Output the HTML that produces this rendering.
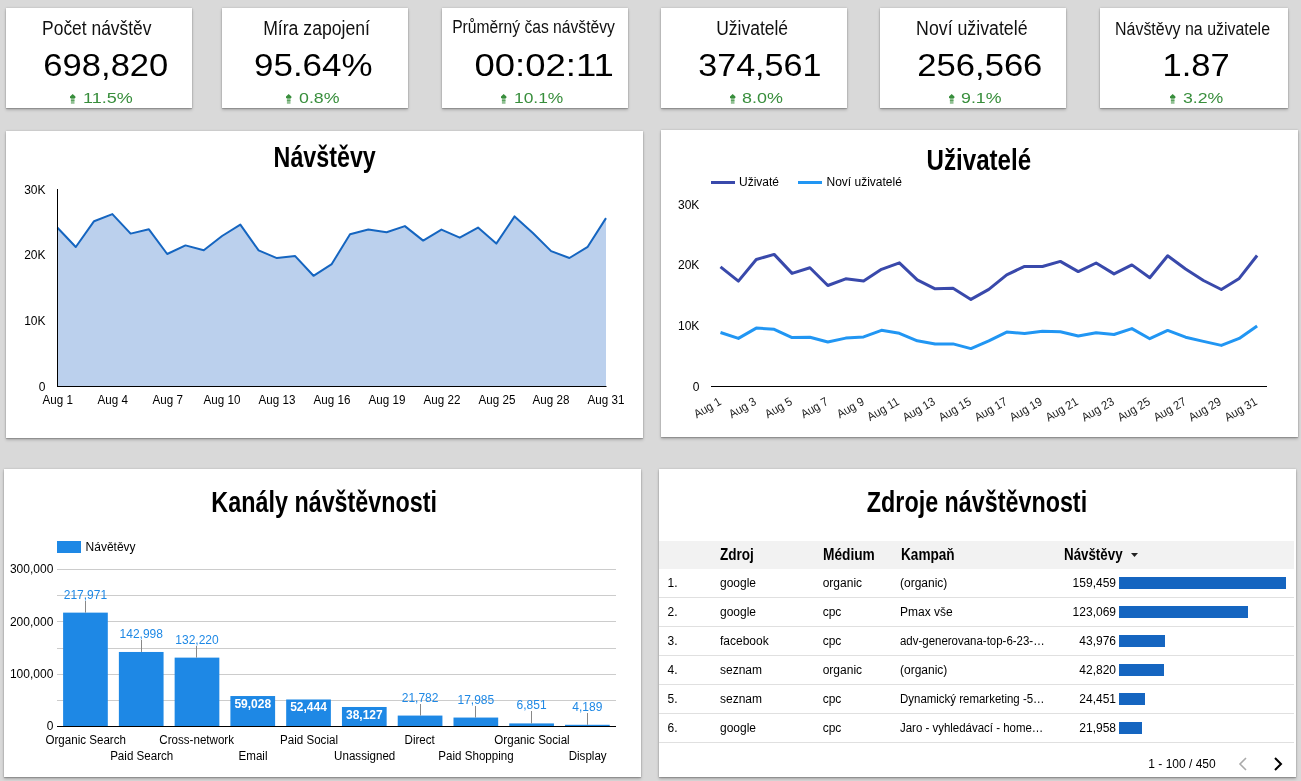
<!DOCTYPE html>
<html><head><meta charset="utf-8"><style>
*{margin:0;padding:0;box-sizing:border-box}
html,body{width:1301px;height:781px;overflow:hidden;background:#d9d9d9;font-family:"Liberation Sans", sans-serif}
.t{position:absolute;white-space:nowrap;font-family:"Liberation Sans", sans-serif}
.card{position:absolute;background:#fff;box-shadow:0 1px 1px rgba(0,0,0,.16),0 0 2px rgba(0,0,0,.18),0 2px 3px rgba(0,0,0,.2)}
.a{position:absolute}
#root{position:absolute;left:0;top:0;width:1301px;height:781px;will-change:transform}
svg{position:absolute;overflow:visible}
</style></head><body>
<div id="root">
<div class="card" style="left:6px;top:8px;width:186px;height:100px"></div>
<div class="card" style="left:222px;top:8px;width:186px;height:100px"></div>
<div class="card" style="left:442px;top:8px;width:186px;height:100px"></div>
<div class="card" style="left:661px;top:8px;width:186px;height:100px"></div>
<div class="card" style="left:880px;top:8px;width:186px;height:100px"></div>
<div class="card" style="left:1100px;top:8px;width:188px;height:100px"></div>
<div class="t" style="left:-403.00px;width:1000px;text-align:center;top:18.00px;font-size:20px;line-height:20px;font-weight:400;color:#111;"><span style="display:inline-block;transform:scaleX(0.871);">Počet návštěv</span></div>
<div class="t" style="left:-394.30px;width:1000px;text-align:center;top:49.00px;font-size:32px;line-height:32px;font-weight:400;color:#000;"><span style="display:inline-block;transform:scaleX(1.08);">698,820</span></div>
<svg class="a" style="left:70px;top:94px" width="6" height="10" viewBox="0 0 6 10"><path d="M2.7 0 L5.4 2.6 L5.4 3.3 L4.6 4.4 L0.8 4.4 L0 3.3 L0 2.6 Z" fill="#388e3c"/><rect x="0.9" y="4.4" width="3.6" height="5.4" fill="#388e3c" opacity="0.55"/><rect x="0.9" y="6" width="3.6" height="1" fill="#388e3c" opacity="0.6"/></svg>
<div class="t" style="left:83.40px;top:90.00px;font-size:15px;line-height:15px;font-weight:400;color:#388e3c;transform-origin:0 0;transform:scaleX(1.2);">11.5%</div>
<div class="t" style="left:-183.80px;width:1000px;text-align:center;top:18.00px;font-size:20px;line-height:20px;font-weight:400;color:#111;"><span style="display:inline-block;transform:scaleX(0.882);">Míra zapojení</span></div>
<div class="t" style="left:-186.40px;width:1000px;text-align:center;top:49.00px;font-size:32px;line-height:32px;font-weight:400;color:#000;"><span style="display:inline-block;transform:scaleX(1.092);">95.64%</span></div>
<svg class="a" style="left:286px;top:94px" width="6" height="10" viewBox="0 0 6 10"><path d="M2.7 0 L5.4 2.6 L5.4 3.3 L4.6 4.4 L0.8 4.4 L0 3.3 L0 2.6 Z" fill="#388e3c"/><rect x="0.9" y="4.4" width="3.6" height="5.4" fill="#388e3c" opacity="0.55"/><rect x="0.9" y="6" width="3.6" height="1" fill="#388e3c" opacity="0.6"/></svg>
<div class="t" style="left:298.50px;top:90.00px;font-size:15px;line-height:15px;font-weight:400;color:#388e3c;transform-origin:0 0;transform:scaleX(1.185);">0.8%</div>
<div class="t" style="left:34.00px;width:1000px;text-align:center;top:18.00px;font-size:18px;line-height:18px;font-weight:400;color:#111;"><span style="display:inline-block;transform:scaleX(0.87);">Průměrný čas návštěvy</span></div>
<div class="t" style="left:43.90px;width:1000px;text-align:center;top:49.00px;font-size:32px;line-height:32px;font-weight:400;color:#000;"><span style="display:inline-block;transform:scaleX(1.141);">00:02:11</span></div>
<svg class="a" style="left:501px;top:94px" width="6" height="10" viewBox="0 0 6 10"><path d="M2.7 0 L5.4 2.6 L5.4 3.3 L4.6 4.4 L0.8 4.4 L0 3.3 L0 2.6 Z" fill="#388e3c"/><rect x="0.9" y="4.4" width="3.6" height="5.4" fill="#388e3c" opacity="0.55"/><rect x="0.9" y="6" width="3.6" height="1" fill="#388e3c" opacity="0.6"/></svg>
<div class="t" style="left:514.20px;top:90.00px;font-size:15px;line-height:15px;font-weight:400;color:#388e3c;transform-origin:0 0;transform:scaleX(1.16);">10.1%</div>
<div class="t" style="left:252.00px;width:1000px;text-align:center;top:18.00px;font-size:20px;line-height:20px;font-weight:400;color:#111;"><span style="display:inline-block;transform:scaleX(0.873);">Uživatelé</span></div>
<div class="t" style="left:260.20px;width:1000px;text-align:center;top:49.00px;font-size:32px;line-height:32px;font-weight:400;color:#000;"><span style="display:inline-block;transform:scaleX(1.065);">374,561</span></div>
<svg class="a" style="left:730px;top:94px" width="6" height="10" viewBox="0 0 6 10"><path d="M2.7 0 L5.4 2.6 L5.4 3.3 L4.6 4.4 L0.8 4.4 L0 3.3 L0 2.6 Z" fill="#388e3c"/><rect x="0.9" y="4.4" width="3.6" height="5.4" fill="#388e3c" opacity="0.55"/><rect x="0.9" y="6" width="3.6" height="1" fill="#388e3c" opacity="0.6"/></svg>
<div class="t" style="left:742.20px;top:90.00px;font-size:15px;line-height:15px;font-weight:400;color:#388e3c;transform-origin:0 0;transform:scaleX(1.194);">8.0%</div>
<div class="t" style="left:471.40px;width:1000px;text-align:center;top:18.00px;font-size:20px;line-height:20px;font-weight:400;color:#111;"><span style="display:inline-block;transform:scaleX(0.887);">Noví uživatelé</span></div>
<div class="t" style="left:479.90px;width:1000px;text-align:center;top:49.00px;font-size:32px;line-height:32px;font-weight:400;color:#000;"><span style="display:inline-block;transform:scaleX(1.081);">256,566</span></div>
<svg class="a" style="left:949px;top:94px" width="6" height="10" viewBox="0 0 6 10"><path d="M2.7 0 L5.4 2.6 L5.4 3.3 L4.6 4.4 L0.8 4.4 L0 3.3 L0 2.6 Z" fill="#388e3c"/><rect x="0.9" y="4.4" width="3.6" height="5.4" fill="#388e3c" opacity="0.55"/><rect x="0.9" y="6" width="3.6" height="1" fill="#388e3c" opacity="0.6"/></svg>
<div class="t" style="left:961.20px;top:90.00px;font-size:15px;line-height:15px;font-weight:400;color:#388e3c;transform-origin:0 0;transform:scaleX(1.185);">9.1%</div>
<div class="t" style="left:692.40px;width:1000px;text-align:center;top:20.00px;font-size:18px;line-height:18px;font-weight:400;color:#111;"><span style="display:inline-block;transform:scaleX(0.885);">Návštěvy na uživatele</span></div>
<div class="t" style="left:696.50px;width:1000px;text-align:center;top:49.00px;font-size:32px;line-height:32px;font-weight:400;color:#000;"><span style="display:inline-block;transform:scaleX(1.079);">1.87</span></div>
<svg class="a" style="left:1170px;top:94px" width="6" height="10" viewBox="0 0 6 10"><path d="M2.7 0 L5.4 2.6 L5.4 3.3 L4.6 4.4 L0.8 4.4 L0 3.3 L0 2.6 Z" fill="#388e3c"/><rect x="0.9" y="4.4" width="3.6" height="5.4" fill="#388e3c" opacity="0.55"/><rect x="0.9" y="6" width="3.6" height="1" fill="#388e3c" opacity="0.6"/></svg>
<div class="t" style="left:1182.60px;top:90.00px;font-size:15px;line-height:15px;font-weight:400;color:#388e3c;transform-origin:0 0;transform:scaleX(1.18);">3.2%</div>
<div class="card" style="left:6px;top:131px;width:637px;height:307px"></div>
<div class="card" style="left:661px;top:130px;width:637px;height:307px"></div>
<div class="card" style="left:4px;top:469px;width:637px;height:308px"></div>
<div class="card" style="left:659px;top:469px;width:637px;height:308px"></div>
<div class="t" style="left:-175.25px;width:1000px;text-align:center;top:143.00px;font-size:29px;line-height:29px;font-weight:700;color:#000;"><span style="display:inline-block;transform:scaleX(0.802);">Návštěvy</span></div>
<svg style="left:0;top:0" width="1301" height="781"><path d="M57.50,386 L57.50,227.70 L75.78,247.00 L94.07,221.20 L112.35,214.10 L130.63,233.60 L148.92,229.30 L167.20,254.00 L185.48,245.40 L203.76,250.20 L222.05,236.00 L240.33,224.60 L258.61,250.40 L276.90,258.10 L295.18,256.10 L313.46,275.80 L331.75,264.10 L350.03,234.30 L368.31,229.50 L386.59,232.30 L404.88,226.10 L423.16,240.60 L441.44,229.60 L459.73,237.70 L478.01,227.60 L496.29,243.60 L514.58,216.40 L532.86,233.00 L551.14,251.10 L569.42,258.00 L587.71,246.80 L605.99,218.10 L605.99,386 Z" fill="#bbd0ed"/><polyline points="57.50,227.70 75.78,247.00 94.07,221.20 112.35,214.10 130.63,233.60 148.92,229.30 167.20,254.00 185.48,245.40 203.76,250.20 222.05,236.00 240.33,224.60 258.61,250.40 276.90,258.10 295.18,256.10 313.46,275.80 331.75,264.10 350.03,234.30 368.31,229.50 386.59,232.30 404.88,226.10 423.16,240.60 441.44,229.60 459.73,237.70 478.01,227.60 496.29,243.60 514.58,216.40 532.86,233.00 551.14,251.10 569.42,258.00 587.71,246.80 605.99,218.10" fill="none" stroke="#1565c0" stroke-width="2" stroke-linejoin="round"/><rect x="57" y="189" width="1" height="198" fill="#000"/><rect x="57" y="386" width="549.5" height="1" fill="#000"/></svg>
<div class="t" style="left:-954.50px;width:1000px;text-align:right;top:381.00px;font-size:12px;line-height:12px;font-weight:400;color:#000;"><span style="display:inline-block;transform-origin:100% 50%;">0</span></div>
<div class="t" style="left:-954.50px;width:1000px;text-align:right;top:315.00px;font-size:12px;line-height:12px;font-weight:400;color:#000;"><span style="display:inline-block;transform-origin:100% 50%;">10K</span></div>
<div class="t" style="left:-954.50px;width:1000px;text-align:right;top:249.00px;font-size:12px;line-height:12px;font-weight:400;color:#000;"><span style="display:inline-block;transform-origin:100% 50%;">20K</span></div>
<div class="t" style="left:-954.50px;width:1000px;text-align:right;top:184.00px;font-size:12px;line-height:12px;font-weight:400;color:#000;"><span style="display:inline-block;transform-origin:100% 50%;">30K</span></div>
<div class="t" style="left:-442.20px;width:1000px;text-align:center;top:394.00px;font-size:12px;line-height:12px;font-weight:400;color:#000;"><span style="display:inline-block;transform:scaleX(0.97);">Aug 1</span></div>
<div class="t" style="left:-387.35px;width:1000px;text-align:center;top:394.00px;font-size:12px;line-height:12px;font-weight:400;color:#000;"><span style="display:inline-block;transform:scaleX(0.97);">Aug 4</span></div>
<div class="t" style="left:-332.50px;width:1000px;text-align:center;top:394.00px;font-size:12px;line-height:12px;font-weight:400;color:#000;"><span style="display:inline-block;transform:scaleX(0.97);">Aug 7</span></div>
<div class="t" style="left:-277.65px;width:1000px;text-align:center;top:394.00px;font-size:12px;line-height:12px;font-weight:400;color:#000;"><span style="display:inline-block;transform:scaleX(0.97);">Aug 10</span></div>
<div class="t" style="left:-222.80px;width:1000px;text-align:center;top:394.00px;font-size:12px;line-height:12px;font-weight:400;color:#000;"><span style="display:inline-block;transform:scaleX(0.97);">Aug 13</span></div>
<div class="t" style="left:-167.95px;width:1000px;text-align:center;top:394.00px;font-size:12px;line-height:12px;font-weight:400;color:#000;"><span style="display:inline-block;transform:scaleX(0.97);">Aug 16</span></div>
<div class="t" style="left:-113.11px;width:1000px;text-align:center;top:394.00px;font-size:12px;line-height:12px;font-weight:400;color:#000;"><span style="display:inline-block;transform:scaleX(0.97);">Aug 19</span></div>
<div class="t" style="left:-58.26px;width:1000px;text-align:center;top:394.00px;font-size:12px;line-height:12px;font-weight:400;color:#000;"><span style="display:inline-block;transform:scaleX(0.97);">Aug 22</span></div>
<div class="t" style="left:-3.41px;width:1000px;text-align:center;top:394.00px;font-size:12px;line-height:12px;font-weight:400;color:#000;"><span style="display:inline-block;transform:scaleX(0.97);">Aug 25</span></div>
<div class="t" style="left:51.44px;width:1000px;text-align:center;top:394.00px;font-size:12px;line-height:12px;font-weight:400;color:#000;"><span style="display:inline-block;transform:scaleX(0.97);">Aug 28</span></div>
<div class="t" style="left:106.29px;width:1000px;text-align:center;top:394.00px;font-size:12px;line-height:12px;font-weight:400;color:#000;"><span style="display:inline-block;transform:scaleX(0.97);">Aug 31</span></div>
<div class="t" style="left:478.90px;width:1000px;text-align:center;top:146.00px;font-size:29px;line-height:29px;font-weight:700;color:#000;"><span style="display:inline-block;transform:scaleX(0.831);">Uživatelé</span></div>
<div style="position:absolute;left:711px;top:180.5px;width:24px;height:3px;background:#3949ab"></div>
<div class="t" style="left:739.00px;top:176.00px;font-size:12px;line-height:12px;font-weight:400;color:#000;transform-origin:0 0;">Uživaté</div>
<div style="position:absolute;left:798px;top:180.5px;width:24px;height:3px;background:#2196f3"></div>
<div class="t" style="left:826.50px;top:176.00px;font-size:12px;line-height:12px;font-weight:400;color:#000;transform-origin:0 0;">Noví uživatelé</div>
<svg style="left:0;top:0" width="1301" height="781"><rect x="711" y="386" width="556" height="1" fill="#000"/><polyline points="720.50,332.50 738.39,338.40 756.27,328.10 774.16,329.30 792.05,337.60 809.93,337.20 827.82,342.00 845.71,338.10 863.60,336.90 881.48,330.30 899.37,333.30 917.26,340.80 935.14,343.90 953.03,343.90 970.92,348.60 988.81,340.80 1006.69,332.10 1024.58,333.50 1042.47,331.30 1060.35,331.80 1078.24,336.00 1096.13,332.70 1114.01,334.50 1131.90,328.60 1149.79,338.70 1167.67,330.40 1185.56,337.20 1203.45,341.40 1221.34,345.40 1239.22,338.40 1257.11,325.90" fill="none" stroke="#2196f3" stroke-width="3" stroke-linejoin="round"/><polyline points="720.50,266.80 738.39,281.10 756.27,259.50 774.16,254.40 792.05,273.40 809.93,267.80 827.82,285.50 845.71,278.80 863.60,281.10 881.48,269.30 899.37,262.80 917.26,279.90 935.14,288.80 953.03,288.30 970.92,299.40 988.81,289.40 1006.69,274.80 1024.58,266.40 1042.47,266.50 1060.35,261.40 1078.24,271.60 1096.13,263.00 1114.01,273.90 1131.90,264.90 1149.79,277.70 1167.67,255.80 1185.56,269.00 1203.45,280.50 1221.34,289.50 1239.22,278.40 1257.11,255.50" fill="none" stroke="#3949ab" stroke-width="3" stroke-linejoin="round"/></svg>
<div class="t" style="left:-300.70px;width:1000px;text-align:right;top:381.00px;font-size:12px;line-height:12px;font-weight:400;color:#000;"><span style="display:inline-block;transform-origin:100% 50%;">0</span></div>
<div class="t" style="left:-300.70px;width:1000px;text-align:right;top:320.00px;font-size:12px;line-height:12px;font-weight:400;color:#000;"><span style="display:inline-block;transform-origin:100% 50%;">10K</span></div>
<div class="t" style="left:-300.70px;width:1000px;text-align:right;top:259.00px;font-size:12px;line-height:12px;font-weight:400;color:#000;"><span style="display:inline-block;transform-origin:100% 50%;">20K</span></div>
<div class="t" style="left:-300.70px;width:1000px;text-align:right;top:199.00px;font-size:12px;line-height:12px;font-weight:400;color:#000;"><span style="display:inline-block;transform-origin:100% 50%;">30K</span></div>
<div class="t" style="left:521.50px;width:200px;text-align:right;top:393.8px;font-size:12px;line-height:12px;color:#222;transform-origin:100% 83%;transform:rotate(-30deg) scaleX(0.93)">Aug 1</div>
<div class="t" style="left:557.27px;width:200px;text-align:right;top:393.8px;font-size:12px;line-height:12px;color:#222;transform-origin:100% 83%;transform:rotate(-30deg) scaleX(0.93)">Aug 3</div>
<div class="t" style="left:593.05px;width:200px;text-align:right;top:393.8px;font-size:12px;line-height:12px;color:#222;transform-origin:100% 83%;transform:rotate(-30deg) scaleX(0.93)">Aug 5</div>
<div class="t" style="left:628.82px;width:200px;text-align:right;top:393.8px;font-size:12px;line-height:12px;color:#222;transform-origin:100% 83%;transform:rotate(-30deg) scaleX(0.93)">Aug 7</div>
<div class="t" style="left:664.60px;width:200px;text-align:right;top:393.8px;font-size:12px;line-height:12px;color:#222;transform-origin:100% 83%;transform:rotate(-30deg) scaleX(0.93)">Aug 9</div>
<div class="t" style="left:700.37px;width:200px;text-align:right;top:393.8px;font-size:12px;line-height:12px;color:#222;transform-origin:100% 83%;transform:rotate(-30deg) scaleX(0.93)">Aug 11</div>
<div class="t" style="left:736.14px;width:200px;text-align:right;top:393.8px;font-size:12px;line-height:12px;color:#222;transform-origin:100% 83%;transform:rotate(-30deg) scaleX(0.93)">Aug 13</div>
<div class="t" style="left:771.92px;width:200px;text-align:right;top:393.8px;font-size:12px;line-height:12px;color:#222;transform-origin:100% 83%;transform:rotate(-30deg) scaleX(0.93)">Aug 15</div>
<div class="t" style="left:807.69px;width:200px;text-align:right;top:393.8px;font-size:12px;line-height:12px;color:#222;transform-origin:100% 83%;transform:rotate(-30deg) scaleX(0.93)">Aug 17</div>
<div class="t" style="left:843.47px;width:200px;text-align:right;top:393.8px;font-size:12px;line-height:12px;color:#222;transform-origin:100% 83%;transform:rotate(-30deg) scaleX(0.93)">Aug 19</div>
<div class="t" style="left:879.24px;width:200px;text-align:right;top:393.8px;font-size:12px;line-height:12px;color:#222;transform-origin:100% 83%;transform:rotate(-30deg) scaleX(0.93)">Aug 21</div>
<div class="t" style="left:915.01px;width:200px;text-align:right;top:393.8px;font-size:12px;line-height:12px;color:#222;transform-origin:100% 83%;transform:rotate(-30deg) scaleX(0.93)">Aug 23</div>
<div class="t" style="left:950.79px;width:200px;text-align:right;top:393.8px;font-size:12px;line-height:12px;color:#222;transform-origin:100% 83%;transform:rotate(-30deg) scaleX(0.93)">Aug 25</div>
<div class="t" style="left:986.56px;width:200px;text-align:right;top:393.8px;font-size:12px;line-height:12px;color:#222;transform-origin:100% 83%;transform:rotate(-30deg) scaleX(0.93)">Aug 27</div>
<div class="t" style="left:1022.34px;width:200px;text-align:right;top:393.8px;font-size:12px;line-height:12px;color:#222;transform-origin:100% 83%;transform:rotate(-30deg) scaleX(0.93)">Aug 29</div>
<div class="t" style="left:1058.11px;width:200px;text-align:right;top:393.8px;font-size:12px;line-height:12px;color:#222;transform-origin:100% 83%;transform:rotate(-30deg) scaleX(0.93)">Aug 31</div>
<div class="t" style="left:-176.25px;width:1000px;text-align:center;top:488.00px;font-size:29px;line-height:29px;font-weight:700;color:#000;"><span style="display:inline-block;transform:scaleX(0.805);">Kanály návštěvnosti</span></div>
<div style="position:absolute;left:57px;top:541px;width:24px;height:12px;background:#1e88e5"></div>
<div class="t" style="left:85.60px;top:541.00px;font-size:12px;line-height:12px;font-weight:400;color:#000;transform-origin:0 0;">Návětěvy</div>
<svg style="left:0;top:0" width="1301" height="781"><rect x="57" y="569" width="559" height="1" fill="#ccc"/><rect x="57" y="595" width="559" height="1" fill="#ccc"/><rect x="57" y="621" width="559" height="1" fill="#ccc"/><rect x="57" y="648" width="559" height="1" fill="#ccc"/><rect x="57" y="674" width="559" height="1" fill="#ccc"/><rect x="57" y="700" width="559" height="1" fill="#ccc"/><rect x="63.10" y="612.63" width="44.7" height="113.87" fill="#1e88e5"/><rect x="85" y="601" width="1" height="11.63" fill="#888"/><rect x="118.87" y="651.97" width="44.7" height="74.53" fill="#1e88e5"/><rect x="141" y="640" width="1" height="11.97" fill="#888"/><rect x="174.64" y="657.62" width="44.7" height="68.88" fill="#1e88e5"/><rect x="196" y="646" width="1" height="11.62" fill="#888"/><rect x="230.41" y="696.03" width="44.7" height="30.47" fill="#1e88e5"/><rect x="286.18" y="699.48" width="44.7" height="27.02" fill="#1e88e5"/><rect x="341.95" y="706.99" width="44.7" height="19.51" fill="#1e88e5"/><rect x="397.72" y="715.57" width="44.7" height="10.93" fill="#1e88e5"/><rect x="420" y="704" width="1" height="11.57" fill="#888"/><rect x="453.49" y="717.56" width="44.7" height="8.94" fill="#1e88e5"/><rect x="475" y="706" width="1" height="11.56" fill="#888"/><rect x="509.26" y="723.41" width="44.7" height="3.09" fill="#1e88e5"/><rect x="531" y="711" width="1" height="12.41" fill="#888"/><rect x="565.03" y="724.80" width="44.7" height="1.70" fill="#1e88e5"/><rect x="587" y="713" width="1" height="11.80" fill="#888"/><rect x="57" y="726" width="559" height="1" fill="#000"/></svg>
<div class="t" style="left:-414.55px;width:1000px;text-align:center;top:589.00px;font-size:12px;line-height:12px;font-weight:400;color:#1e88e5;"><span style="display:inline-block;">217,971</span></div>
<div class="t" style="left:-414.55px;width:1000px;text-align:center;top:734.00px;font-size:12px;line-height:12px;font-weight:400;color:#000;"><span style="display:inline-block;transform:scaleX(0.965);">Organic Search</span></div>
<div class="t" style="left:-358.78px;width:1000px;text-align:center;top:628.00px;font-size:12px;line-height:12px;font-weight:400;color:#1e88e5;"><span style="display:inline-block;">142,998</span></div>
<div class="t" style="left:-358.78px;width:1000px;text-align:center;top:750.00px;font-size:12px;line-height:12px;font-weight:400;color:#000;"><span style="display:inline-block;transform:scaleX(0.965);">Paid Search</span></div>
<div class="t" style="left:-303.01px;width:1000px;text-align:center;top:634.00px;font-size:12px;line-height:12px;font-weight:400;color:#1e88e5;"><span style="display:inline-block;">132,220</span></div>
<div class="t" style="left:-303.01px;width:1000px;text-align:center;top:734.00px;font-size:12px;line-height:12px;font-weight:400;color:#000;"><span style="display:inline-block;transform:scaleX(0.965);">Cross-network</span></div>
<div class="t" style="left:-247.24px;width:1000px;text-align:center;top:698.00px;font-size:12px;line-height:12px;font-weight:700;color:#fff;"><span style="display:inline-block;">59,028</span></div>
<div class="t" style="left:-247.24px;width:1000px;text-align:center;top:750.00px;font-size:12px;line-height:12px;font-weight:400;color:#000;"><span style="display:inline-block;transform:scaleX(0.965);">Email</span></div>
<div class="t" style="left:-191.47px;width:1000px;text-align:center;top:701.00px;font-size:12px;line-height:12px;font-weight:700;color:#fff;"><span style="display:inline-block;">52,444</span></div>
<div class="t" style="left:-191.47px;width:1000px;text-align:center;top:734.00px;font-size:12px;line-height:12px;font-weight:400;color:#000;"><span style="display:inline-block;transform:scaleX(0.965);">Paid Social</span></div>
<div class="t" style="left:-135.70px;width:1000px;text-align:center;top:709.00px;font-size:12px;line-height:12px;font-weight:700;color:#fff;"><span style="display:inline-block;">38,127</span></div>
<div class="t" style="left:-135.70px;width:1000px;text-align:center;top:750.00px;font-size:12px;line-height:12px;font-weight:400;color:#000;"><span style="display:inline-block;transform:scaleX(0.965);">Unassigned</span></div>
<div class="t" style="left:-79.93px;width:1000px;text-align:center;top:692.00px;font-size:12px;line-height:12px;font-weight:400;color:#1e88e5;"><span style="display:inline-block;">21,782</span></div>
<div class="t" style="left:-79.93px;width:1000px;text-align:center;top:734.00px;font-size:12px;line-height:12px;font-weight:400;color:#000;"><span style="display:inline-block;transform:scaleX(0.965);">Direct</span></div>
<div class="t" style="left:-24.16px;width:1000px;text-align:center;top:694.00px;font-size:12px;line-height:12px;font-weight:400;color:#1e88e5;"><span style="display:inline-block;">17,985</span></div>
<div class="t" style="left:-24.16px;width:1000px;text-align:center;top:750.00px;font-size:12px;line-height:12px;font-weight:400;color:#000;"><span style="display:inline-block;transform:scaleX(0.965);">Paid Shopping</span></div>
<div class="t" style="left:31.61px;width:1000px;text-align:center;top:699.00px;font-size:12px;line-height:12px;font-weight:400;color:#1e88e5;"><span style="display:inline-block;">6,851</span></div>
<div class="t" style="left:31.61px;width:1000px;text-align:center;top:734.00px;font-size:12px;line-height:12px;font-weight:400;color:#000;"><span style="display:inline-block;transform:scaleX(0.965);">Organic Social</span></div>
<div class="t" style="left:87.38px;width:1000px;text-align:center;top:701.00px;font-size:12px;line-height:12px;font-weight:400;color:#1e88e5;"><span style="display:inline-block;">4,189</span></div>
<div class="t" style="left:87.38px;width:1000px;text-align:center;top:750.00px;font-size:12px;line-height:12px;font-weight:400;color:#000;"><span style="display:inline-block;transform:scaleX(0.965);">Display</span></div>
<div class="t" style="left:-946.70px;width:1000px;text-align:right;top:720.00px;font-size:12px;line-height:12px;font-weight:400;color:#000;"><span style="display:inline-block;transform-origin:100% 50%;">0</span></div>
<div class="t" style="left:-946.70px;width:1000px;text-align:right;top:668.00px;font-size:12px;line-height:12px;font-weight:400;color:#000;"><span style="display:inline-block;transform-origin:100% 50%;">100,000</span></div>
<div class="t" style="left:-946.70px;width:1000px;text-align:right;top:616.00px;font-size:12px;line-height:12px;font-weight:400;color:#000;"><span style="display:inline-block;transform-origin:100% 50%;">200,000</span></div>
<div class="t" style="left:-946.70px;width:1000px;text-align:right;top:563.00px;font-size:12px;line-height:12px;font-weight:400;color:#000;"><span style="display:inline-block;transform-origin:100% 50%;">300,000</span></div>
<div class="t" style="left:476.50px;width:1000px;text-align:center;top:488.00px;font-size:29px;line-height:29px;font-weight:700;color:#000;"><span style="display:inline-block;transform:scaleX(0.804);">Zdroje návštěvnosti</span></div>
<div style="position:absolute;left:659px;top:541px;width:635px;height:28px;background:#f2f2f2"></div>
<div class="t" style="left:720.00px;top:547.00px;font-size:16px;line-height:16px;font-weight:700;color:#000;transform-origin:0 0;transform:scaleX(0.846);">Zdroj</div>
<div class="t" style="left:822.70px;top:547.00px;font-size:16px;line-height:16px;font-weight:700;color:#000;transform-origin:0 0;transform:scaleX(0.857);">Médium</div>
<div class="t" style="left:900.80px;top:547.00px;font-size:16px;line-height:16px;font-weight:700;color:#000;transform-origin:0 0;transform:scaleX(0.85);">Kampaň</div>
<div class="t" style="left:1063.70px;top:547.00px;font-size:16px;line-height:16px;font-weight:700;color:#000;transform-origin:0 0;transform:scaleX(0.833);">Návštěvy</div>
<svg style="left:1131px;top:553px" width="8" height="5"><path d="M0 0 L7 0 L3.5 4 Z" fill="#222"/></svg>
<div class="t" style="left:667.50px;top:577.00px;font-size:12px;line-height:12px;font-weight:400;color:#000;transform-origin:0 0;">1.</div>
<div class="t" style="left:720.00px;top:577.00px;font-size:12px;line-height:12px;font-weight:400;color:#000;transform-origin:0 0;">google</div>
<div class="t" style="left:822.70px;top:577.00px;font-size:12px;line-height:12px;font-weight:400;color:#000;transform-origin:0 0;">organic</div>
<div class="t" style="left:900.00px;top:577.00px;font-size:12px;line-height:12px;font-weight:400;color:#000;transform-origin:0 0;">(organic)</div>
<div class="t" style="left:116.00px;width:1000px;text-align:right;top:577.00px;font-size:12px;line-height:12px;font-weight:400;color:#000;"><span style="display:inline-block;transform-origin:100% 50%;">159,459</span></div>
<div style="position:absolute;left:1119px;top:577.00px;width:167.00px;height:12px;background:#1565c0"></div>
<div style="position:absolute;left:659px;top:597.00px;width:635px;height:1px;background:#e0e0e0"></div>
<div class="t" style="left:667.50px;top:606.00px;font-size:12px;line-height:12px;font-weight:400;color:#000;transform-origin:0 0;">2.</div>
<div class="t" style="left:720.00px;top:606.00px;font-size:12px;line-height:12px;font-weight:400;color:#000;transform-origin:0 0;">google</div>
<div class="t" style="left:822.70px;top:606.00px;font-size:12px;line-height:12px;font-weight:400;color:#000;transform-origin:0 0;">cpc</div>
<div class="t" style="left:900.00px;top:606.00px;font-size:12px;line-height:12px;font-weight:400;color:#000;transform-origin:0 0;">Pmax vše</div>
<div class="t" style="left:116.00px;width:1000px;text-align:right;top:606.00px;font-size:12px;line-height:12px;font-weight:400;color:#000;"><span style="display:inline-block;transform-origin:100% 50%;">123,069</span></div>
<div style="position:absolute;left:1119px;top:605.98px;width:128.89px;height:12px;background:#1565c0"></div>
<div style="position:absolute;left:659px;top:625.98px;width:635px;height:1px;background:#e0e0e0"></div>
<div class="t" style="left:667.50px;top:635.00px;font-size:12px;line-height:12px;font-weight:400;color:#000;transform-origin:0 0;">3.</div>
<div class="t" style="left:720.00px;top:635.00px;font-size:12px;line-height:12px;font-weight:400;color:#000;transform-origin:0 0;">facebook</div>
<div class="t" style="left:822.70px;top:635.00px;font-size:12px;line-height:12px;font-weight:400;color:#000;transform-origin:0 0;">cpc</div>
<div class="t" style="left:900.00px;top:635.00px;font-size:12px;line-height:12px;font-weight:400;color:#000;transform-origin:0 0;transform:scaleX(0.955);">adv-generovana-top-6-23-…</div>
<div class="t" style="left:116.00px;width:1000px;text-align:right;top:635.00px;font-size:12px;line-height:12px;font-weight:400;color:#000;"><span style="display:inline-block;transform-origin:100% 50%;">43,976</span></div>
<div style="position:absolute;left:1119px;top:634.96px;width:46.06px;height:12px;background:#1565c0"></div>
<div style="position:absolute;left:659px;top:654.96px;width:635px;height:1px;background:#e0e0e0"></div>
<div class="t" style="left:667.50px;top:664.00px;font-size:12px;line-height:12px;font-weight:400;color:#000;transform-origin:0 0;">4.</div>
<div class="t" style="left:720.00px;top:664.00px;font-size:12px;line-height:12px;font-weight:400;color:#000;transform-origin:0 0;">seznam</div>
<div class="t" style="left:822.70px;top:664.00px;font-size:12px;line-height:12px;font-weight:400;color:#000;transform-origin:0 0;">organic</div>
<div class="t" style="left:900.00px;top:664.00px;font-size:12px;line-height:12px;font-weight:400;color:#000;transform-origin:0 0;">(organic)</div>
<div class="t" style="left:116.00px;width:1000px;text-align:right;top:664.00px;font-size:12px;line-height:12px;font-weight:400;color:#000;"><span style="display:inline-block;transform-origin:100% 50%;">42,820</span></div>
<div style="position:absolute;left:1119px;top:663.94px;width:44.85px;height:12px;background:#1565c0"></div>
<div style="position:absolute;left:659px;top:683.94px;width:635px;height:1px;background:#e0e0e0"></div>
<div class="t" style="left:667.50px;top:693.00px;font-size:12px;line-height:12px;font-weight:400;color:#000;transform-origin:0 0;">5.</div>
<div class="t" style="left:720.00px;top:693.00px;font-size:12px;line-height:12px;font-weight:400;color:#000;transform-origin:0 0;">seznam</div>
<div class="t" style="left:822.70px;top:693.00px;font-size:12px;line-height:12px;font-weight:400;color:#000;transform-origin:0 0;">cpc</div>
<div class="t" style="left:900.00px;top:693.00px;font-size:12px;line-height:12px;font-weight:400;color:#000;transform-origin:0 0;transform:scaleX(0.955);">Dynamický remarketing -5…</div>
<div class="t" style="left:116.00px;width:1000px;text-align:right;top:693.00px;font-size:12px;line-height:12px;font-weight:400;color:#000;"><span style="display:inline-block;transform-origin:100% 50%;">24,451</span></div>
<div style="position:absolute;left:1119px;top:692.92px;width:25.61px;height:12px;background:#1565c0"></div>
<div style="position:absolute;left:659px;top:712.92px;width:635px;height:1px;background:#e0e0e0"></div>
<div class="t" style="left:667.50px;top:722.00px;font-size:12px;line-height:12px;font-weight:400;color:#000;transform-origin:0 0;">6.</div>
<div class="t" style="left:720.00px;top:722.00px;font-size:12px;line-height:12px;font-weight:400;color:#000;transform-origin:0 0;">google</div>
<div class="t" style="left:822.70px;top:722.00px;font-size:12px;line-height:12px;font-weight:400;color:#000;transform-origin:0 0;">cpc</div>
<div class="t" style="left:900.00px;top:722.00px;font-size:12px;line-height:12px;font-weight:400;color:#000;transform-origin:0 0;transform:scaleX(0.955);">Jaro - vyhledávací - home…</div>
<div class="t" style="left:116.00px;width:1000px;text-align:right;top:722.00px;font-size:12px;line-height:12px;font-weight:400;color:#000;"><span style="display:inline-block;transform-origin:100% 50%;">21,958</span></div>
<div style="position:absolute;left:1119px;top:721.90px;width:23.00px;height:12px;background:#1565c0"></div>
<div style="position:absolute;left:659px;top:741.90px;width:635px;height:1px;background:#e0e0e0"></div>
<div class="t" style="left:1148.30px;top:758.00px;font-size:12px;line-height:12px;font-weight:400;color:#000;transform-origin:0 0;">1 - 100 / 450</div>
<svg style="left:1236px;top:756px" width="14" height="16"><path d="M10 2 L4 8 L10 14" fill="none" stroke="#aaa" stroke-width="1.6"/></svg>
<svg style="left:1271px;top:756px" width="14" height="16"><path d="M4 2 L10 8 L4 14" fill="none" stroke="#000" stroke-width="2"/></svg>
</div>
</body></html>
